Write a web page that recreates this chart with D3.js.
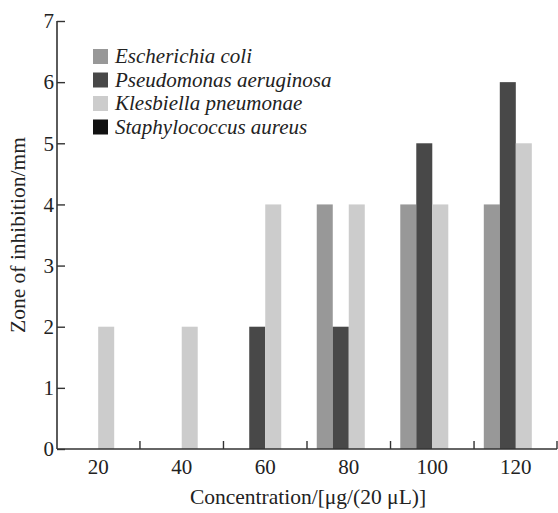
<!DOCTYPE html>
<html>
<head>
<meta charset="utf-8">
<script src="https://cdn.jsdelivr.net/npm/d3@7"></script>
<style>
  body { margin: 0; background: #fff; }
</style>
</head>
<body>
<div id="chart"></div>
<script>
// concentrations (x categories)
let concentrations = [20, 40, 60, 80, 100, 120];
let seriesNames = [
  "Escherichia coli",
  "Pseudomonas aeruginosa",
  "Klesbiella pneumonae",
  "Staphylococcus aureus",
];
// zone of inhibition (mm) per series, per concentration
let ecoli = [0, 0, 0, 4, 4, 4];
let paeruginosa = [0, 0, 2, 2, 5, 6];
let kpneumonae = [2, 2, 4, 4, 4, 5];
let saureus = [0, 0, 0, 0, 0, 0];
let yTicks = [0, 1, 2, 3, 4, 5, 6, 7];

let colors = ["#989898", "#484848", "#cccccc", "#111111"];
let serif = "'Liberation Serif', 'Times New Roman', 'DejaVu Serif', serif";

let width = 558;
let height = 513;
let plotLeft = 57, plotRight = 557, plotTop = 21, plotBottom = 449;

let series = [ecoli, paeruginosa, kpneumonae, saureus];
let rows = [];
concentrations.forEach(function (c, i) {
  series.forEach(function (s, j) {
    rows.push({ conc: c, name: seriesNames[j], value: s[i], k: j });
  });
});

let svg = d3
  .select("#chart")
  .append("svg")
  .attr("width", width)
  .attr("height", height)
  .style("font-family", serif);

let xScale = d3
  .scaleBand()
  .domain(concentrations)
  .range([plotLeft, plotRight])
  .paddingInner(0.2335)
  .paddingOuter(0.11);

let subScale = d3
  .scaleBand()
  .domain(seriesNames)
  .range([0, xScale.bandwidth()]);

let yScale = d3.scaleLinear().domain([0, 7]).range([plotBottom, plotTop]);

// bars
svg
  .selectAll("rect.bar")
  .data(rows.filter((d) => d.value > 0))
  .enter()
  .append("rect")
  .attr("class", "bar")
  .attr("x", (d) => xScale(d.conc) + subScale(d.name))
  .attr("y", (d) => yScale(d.value))
  .attr("width", subScale.bandwidth())
  .attr("height", (d) => yScale(0) - yScale(d.value))
  .attr("fill", (d) => colors[d.k]);

// y axis
let yAxis = d3
  .axisLeft(yScale)
  .tickValues(yTicks)
  .tickFormat(d3.format("d"))
  .tickSize(-8)
  .tickPadding(4);
let gy = svg
  .append("g")
  .attr("transform", "translate(" + plotLeft + ",0)")
  .call(yAxis)
  .attr("font-family", null)
  .attr("font-size", 21);
gy.select(".domain").attr("d", "M0," + plotBottom + "V" + plotTop).attr("stroke", "#333").attr("stroke-width", 1.6);
gy.selectAll(".tick line").attr("stroke", "#333").attr("stroke-width", 1.4);
gy.selectAll(".tick text").attr("x", -3).attr("fill", "#222").style("font-family", serif);

// x axis: labels at group centers, ticks between groups
let xAxis = d3.axisBottom(xScale).tickSize(0).tickPadding(10);
let gx = svg
  .append("g")
  .attr("transform", "translate(0," + plotBottom + ")")
  .call(xAxis)
  .attr("font-family", null)
  .attr("font-size", 21);
gx.select(".domain").attr("d", "M" + plotLeft + ",0H" + plotRight).attr("stroke", "#333").attr("stroke-width", 1.6);
gx.selectAll(".tick text").attr("fill", "#222").style("font-family", serif);

let step = xScale.step();
let gapTicks = concentrations.slice(1).map(
  (c) => xScale(c) - (step - xScale.bandwidth()) / 2
);
gapTicks.push(plotRight);
gx.selectAll("line.gap")
  .data(gapTicks)
  .enter()
  .append("line")
  .attr("class", "gap")
  .attr("x1", (d) => d)
  .attr("x2", (d) => d)
  .attr("y1", 0)
  .attr("y2", -8)
  .attr("stroke", "#333")
  .attr("stroke-width", 1.4);

// axis titles
svg
  .append("text")
  .attr("x", 308)
  .attr("y", 504)
  .attr("text-anchor", "middle")
  .attr("font-size", 21.5)
  .attr("fill", "#222")
  .text("Concentration/[\u03bcg/(20 \u03bcL)]");

svg
  .append("text")
  .attr("transform", "translate(25,235) rotate(-90)")
  .attr("text-anchor", "middle")
  .attr("font-size", 21.5)
  .attr("fill", "#222")
  .text("Zone of inhibition/mm");

// legend
let legend = svg.append("g").attr("transform", "translate(93,49)");
let item = legend
  .selectAll("g")
  .data(seriesNames)
  .enter()
  .append("g")
  .attr("transform", (d, i) => "translate(0," + i * 23.5 + ")");
item
  .append("rect")
  .attr("width", 15)
  .attr("height", 15)
  .attr("fill", (d, i) => colors[i]);
item
  .append("text")
  .attr("x", 22)
  .attr("y", 14)
  .attr("font-size", 21)
  .attr("font-style", "italic")
  .attr("fill", "#222")
  .text((d) => d);
</script>
</body>
</html>
